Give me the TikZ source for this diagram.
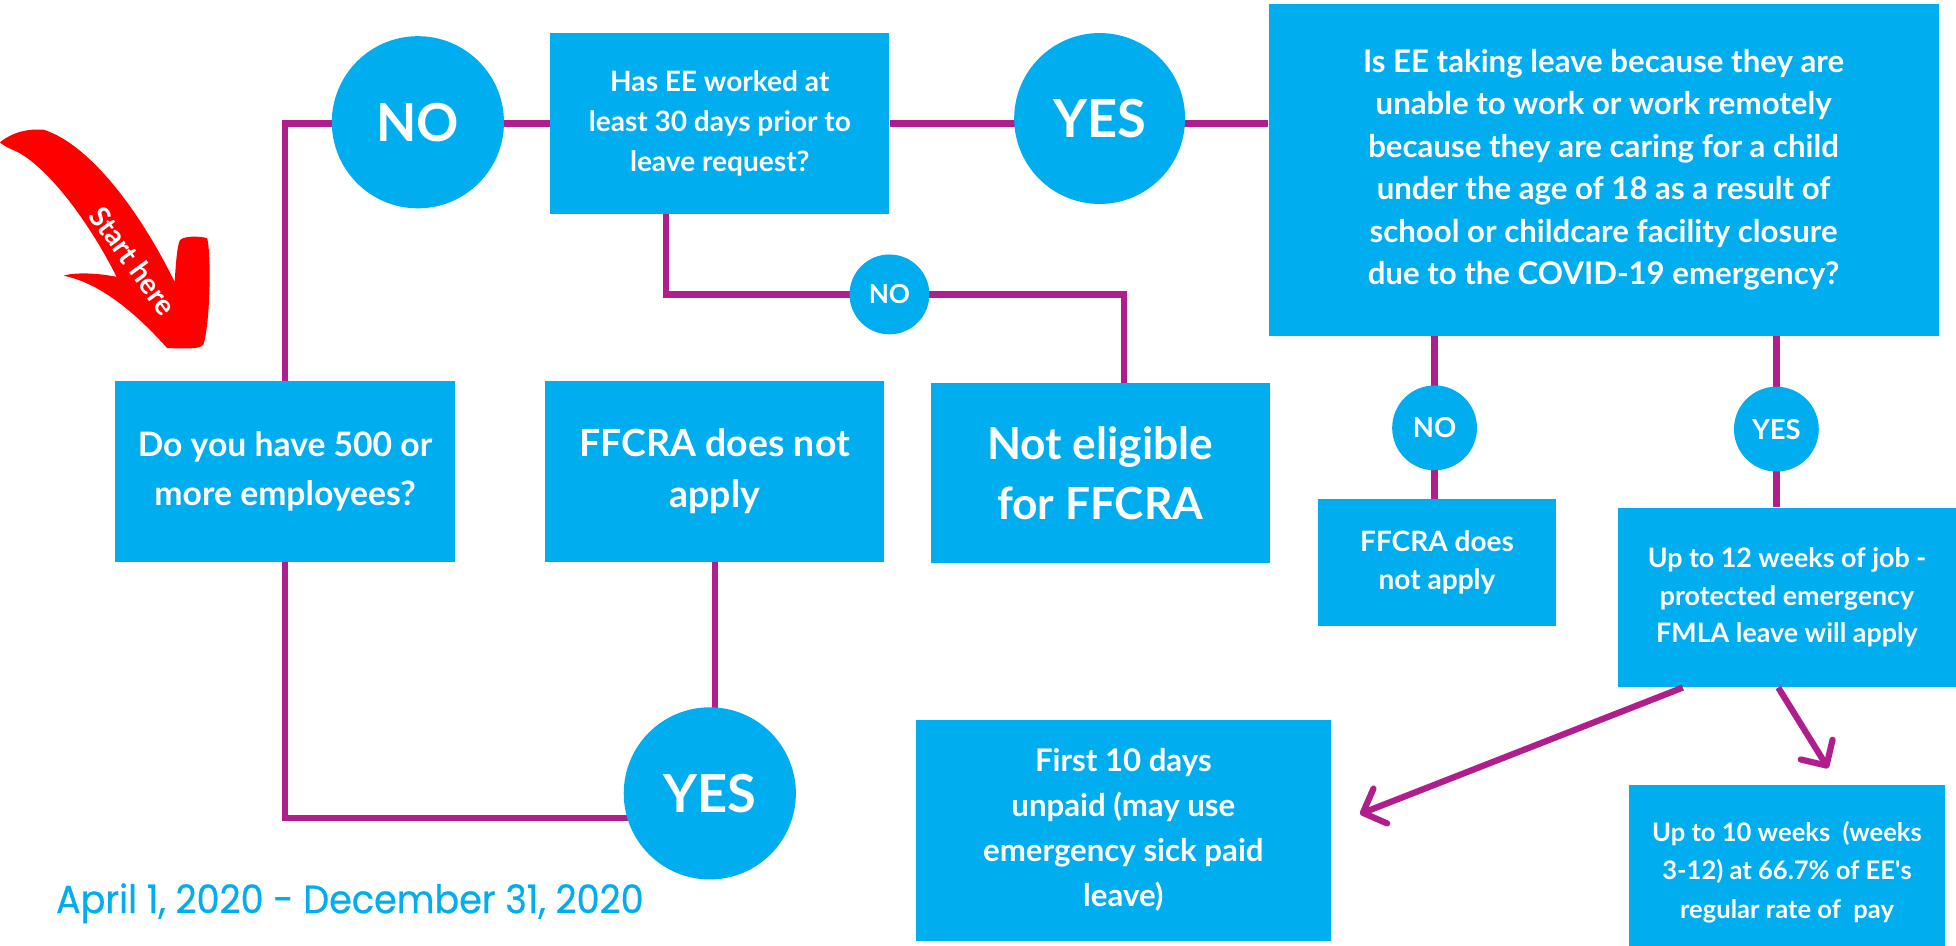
\documentclass[tikz,border=0pt]{standalone}
\usepackage{fontspec}
\setmainfont{Lato}
\newfontfamily\datefont[FakeBold=0.5]{Poppins}
\usetikzlibrary{arrows.meta,backgrounds}
\definecolor{ffblue}{HTML}{00ADEE}
\definecolor{fflink}{HTML}{B01E8E}
\definecolor{ffred}{HTML}{FF0000}
\newcommand\fsz[2]{\fontsize{#1}{#2}\selectfont}

\begin{document}
\begin{tikzpicture}[x=1pt,y=-1pt,
		box/.style={fill=ffblue,text=white,align=center,inner sep=0pt},
		answer/.style={circle,fill=ffblue,text=white,inner sep=0pt},
		link/.style={draw=fflink,line width=5pt},
		barb/.style={-{Straight Barb[length=15pt,width=30pt,round]}}
	]
	\useasboundingbox (0,0) rectangle (1568,758);
	% questions and outcomes
	\node[box,minimum width=272pt,minimum height=145pt,font=\bfseries\fsz{27}{39}] (q500) at (228.5,378) {Do you have 500 or\\more employees?};
	\node[box,minimum width=272pt,minimum height=145pt,font=\bfseries\fsz{22.5}{32}] (q30) at (577,99) {Has EE worked at\\least 30 days prior to\\leave request?};
	\node[box,minimum width=272pt,minimum height=145pt,font=\bfseries\fsz{30}{41}] (notapply) at (573,378) {FFCRA does not\\apply};
	\node[box,minimum width=272pt,minimum height=144pt,font=\bfseries\fsz{35.5}{48}] (noteligible) at (882,379) {Not eligible\\for FFCRA};
	\node[box,minimum width=537pt,minimum height=266pt,font=\bfseries\fsz{25}{34}] (qcovid) at (1285.5,136) {Is EE taking leave because they are\\unable to work or work remotely\\because they are caring for a child\\under the age of 18 as a result of\\school or childcare facility closure\\due to the COVID-19 emergency?};
	\node[box,minimum width=191pt,minimum height=102pt,font=\bfseries\fsz{22.5}{30}] (notapply2) at (1152,451) {FFCRA does\\not apply};
	\node[box,minimum width=271pt,minimum height=144pt,font=\bfseries\fsz{21.5}{30}] (fmla) at (1432.5,479) {Up to 12 weeks of job -\\protected emergency\\FMLA leave will apply};
	\node[box,minimum width=333pt,minimum height=177pt,font=\bfseries\fsz{25}{36}] (unpaid) at (900.5,665.5) {First 10 days\\unpaid (may use\\emergency sick paid\\leave)};
	\node[box,minimum width=253pt,minimum height=140pt,font=\bfseries\fsz{20.5}{31}] (paid) at (1432.5,699) {Up to 10 weeks~ (weeks\\3-12) at 66.7\% of EE\textquotesingle s\\regular rate of~ pay};
	% answers
	\node[answer,minimum size=138pt,font=\bfseries\fsz{42}{50}] (no1) at (335,98) {NO};
	\node[answer,minimum size=137pt,font=\bfseries\fsz{42}{50}] (yes1) at (881.5,95) {YES};
	\node[answer,minimum size=138pt,font=\bfseries\fsz{42}{50}] (yes2) at (569,636) {YES};
	\node[answer,minimum size=64pt,font=\bfseries\fsz{21}{25}] (no2) at (713,236) {NO};
	\node[answer,minimum size=68pt,font=\bfseries\fsz{22}{25}] (no3) at (1150,343) {NO};
	\node[answer,minimum size=68pt,font=\bfseries\fsz{22}{25}] (yes3) at (1424,344) {YES};
	% connectors
	\begin{scope}[on background layer]
		\draw[link] (q500.north) |- (q30.west);
		\draw[link] (q30.east) -- (qcovid.west |- q30.east);
		\draw[link] ([xshift=-43pt]q30.south) |- (no2.center) -| ([xshift=19pt]noteligible.north);
		\draw[link] (notapply.south) -- (notapply.south |- yes2.center);
		\draw[link] (q500.south) |- ([yshift=-20pt]yes2.center);
		\draw[link] (no3 |- qcovid.south) -- (no3 |- notapply2.north);
		\draw[link] (yes3 |- qcovid.south) -- (yes3 |- fmla.north);
	\end{scope}
	\draw[link,barb] ([xshift=-83.5pt]fmla.south) -- ([xshift=23pt,yshift=13pt]unpaid.east);
	\draw[link,barb] ([xshift=-7pt]fmla.south) -- ([xshift=33pt,yshift=13pt]paid.north);
	% start arrow
	\fill[ffred] (0,114) .. controls (10,106) and (22,103) .. (35,104)
		.. controls (70,115) and (110,165) .. (140,226)
		.. controls (141,210) and (142,198) .. (144,193)
		.. controls (146,189) and (160,189) .. (166,191)
		.. controls (169,200) and (169,250) .. (164,273)
		.. controls (163,279) and (160,280) .. (134,279)
		.. controls (115,258) and (85,228) .. (51,221)
		.. controls (60,218) and (80,219) .. (93.5,222)
		.. controls (70,175) and (35,130) .. (10,120)
		.. controls (5,118) and (2,116) .. cycle;
	\node[text=white,rotate=-54,font=\bfseries\fsz{23}{26}] (start) at (107,209) {Start here};
	% period
	\node[text=ffblue,anchor=base west,inner sep=0pt] (period) at (44.7,732) {\resizebox{471pt}{24pt}{\datefont April 1, 2020 - December 31, 2020}};
\end{tikzpicture}
\end{document}
